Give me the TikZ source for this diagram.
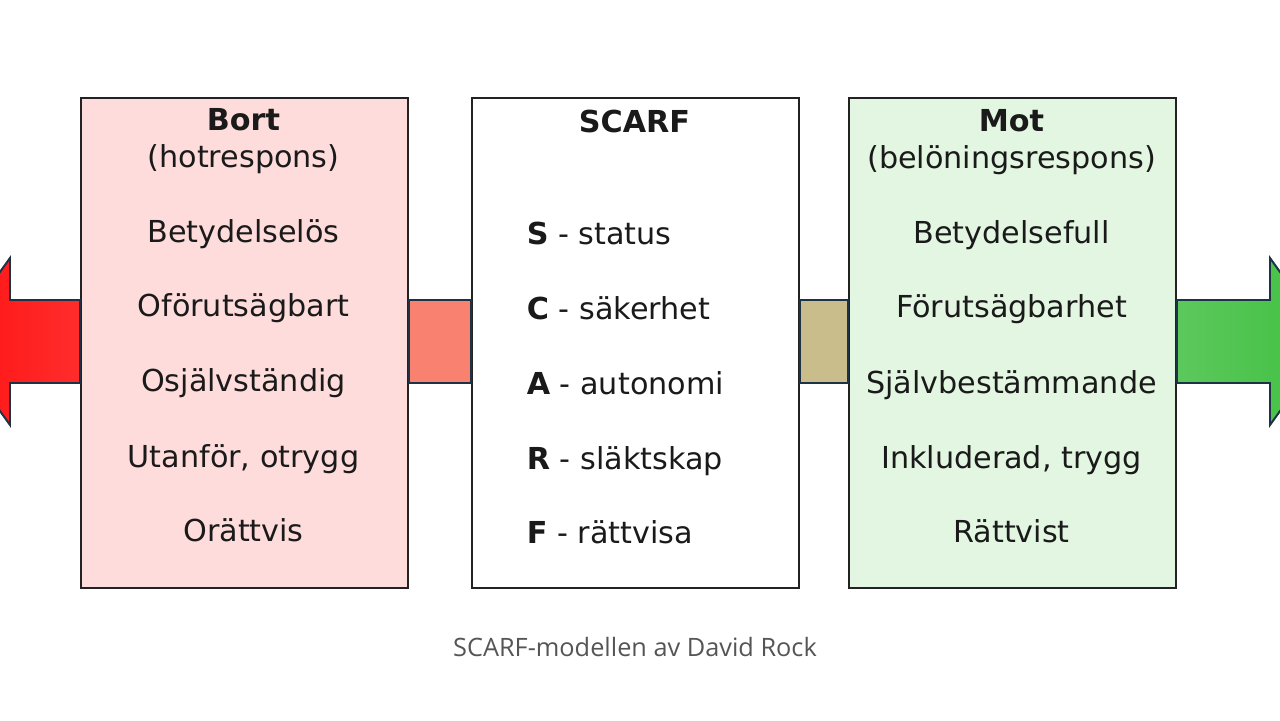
\documentclass[tikz,border=0pt]{standalone}
\usepackage{fontspec}
\setmainfont{DejaVu Sans}
\newfontfamily\captionfont{Open Sans}

\definecolor{boxline}{HTML}{222222}
\definecolor{ink}{HTML}{1A1A1A}
\definecolor{bortfill}{HTML}{FFDCDC}
\definecolor{motfill}{HTML}{E2F6E2}
\definecolor{barsalmon}{HTML}{F8826F}
\definecolor{bartan}{HTML}{C9BE8B}
\definecolor{arrowline}{HTML}{1E3246}
\definecolor{redleft}{HTML}{FF1212}
\definecolor{redright}{HTML}{FF2C2C}
\definecolor{greenleft}{HTML}{5CC85C}
\definecolor{greenright}{HTML}{40C040}
\definecolor{capgray}{HTML}{555555}

\begin{document}
\begin{tikzpicture}[
    x=1cm, y=1cm,
    box/.style={rectangle, draw=boxline, line width=1.4pt, inner sep=0pt,
                minimum width=8.175cm, minimum height=12.25cm, anchor=north west},
    item/.style={anchor=base, text=ink, font=\fontsize{21.5}{26}\selectfont},
    head/.style={item, font=\fontsize{21.5}{26}\selectfont\bfseries},
    sitem/.style={item, anchor=base west},
    bar/.style={draw=arrowline, line width=1.4pt},
    caption/.style={anchor=base, text=capgray, font=\captionfont\fontsize{18}{21}\selectfont}
]
    \useasboundingbox (0,0) rectangle (32,18);

    % Boxes
    \node[box, fill=bortfill] (bort)  at ( 2.0,   15.575) {};
    \node[box, fill=white]    (scarf) at (11.775, 15.575) {};
    \node[box, fill=motfill]  (mot)   at (21.2,   15.575) {};

    % Bar levels
    \coordinate (bartop) at (0,10.5);
    \coordinate (barbot) at (0,8.425);

    % Bars between the boxes
    \draw[bar, fill=barsalmon] (bort.east |- bartop) rectangle (scarf.west |- barbot);
    \draw[bar, fill=bartan]    (scarf.east |- bartop) rectangle (mot.west |- barbot);

    % Outer arrows
    \draw[bar, line join=miter, left color=redleft, right color=redright]
        (bort.west |- bartop) -- (0.25,10.5) -- (0.25,11.55) -- (-1.25,9.4625)
        -- (0.25,7.375) -- (0.25,8.425) -- (bort.west |- barbot) -- cycle;
    \draw[bar, line join=miter, left color=greenleft, right color=greenright]
        (mot.east |- bartop) -- (31.75,10.5) -- (31.75,11.55) -- (33.25,9.4625)
        -- (31.75,7.375) -- (31.75,8.425) -- (mot.east |- barbot) -- cycle;

    % Bort
    \node[head] (bhead) at (6.0875,14.725) {Bort};
    \node[item] (bsub)  at (6.0875,13.8)   {(hotrespons)};
    \node[item] (b1) at (6.0875,11.925) {Betydelselös};
    \node[item] (b2) at (6.0875,10.075) {Oförutsägbart};
    \node[item] (b3) at (6.0875,8.2)    {Osjälvständig};
    \node[item] (b4) at (6.0875,6.325)  {Utanför, otrygg};
    \node[item] (b5) at (6.0875,4.475)  {Orättvis};

    % SCARF
    \node[head] (shead) at (15.8625,14.675) {SCARF};
    \node[sitem] (s1) at (13.05,11.875) {\textbf{S} - status};
    \node[sitem] (s2) at (13.05,10.0)   {\textbf{C} - säkerhet};
    \node[sitem] (s3) at (13.05,8.15)   {\textbf{A} - autonomi};
    \node[sitem] (s4) at (13.05,6.275)  {\textbf{R} - släktskap};
    \node[sitem] (s5) at (13.05,4.425)  {\textbf{F} - rättvisa};

    % Mot
    \node[head] (mhead) at (25.2875,14.7)   {Mot};
    \node[item] (msub)  at (25.2875,13.775) {(belöningsrespons)};
    \node[item] (m1) at (25.2875,11.9)  {Betydelsefull};
    \node[item] (m2) at (25.2875,10.05) {Förutsägbarhet};
    \node[item] (m3) at (25.2875,8.175) {Självbestämmande};
    \node[item] (m4) at (25.2875,6.3)   {Inkluderad, trygg};
    \node[item] (m5) at (25.2875,4.45)  {Rättvist};

    \node[caption] (cap) at (15.875,1.6) {SCARF-modellen av David Rock};

\end{tikzpicture}
\end{document}
